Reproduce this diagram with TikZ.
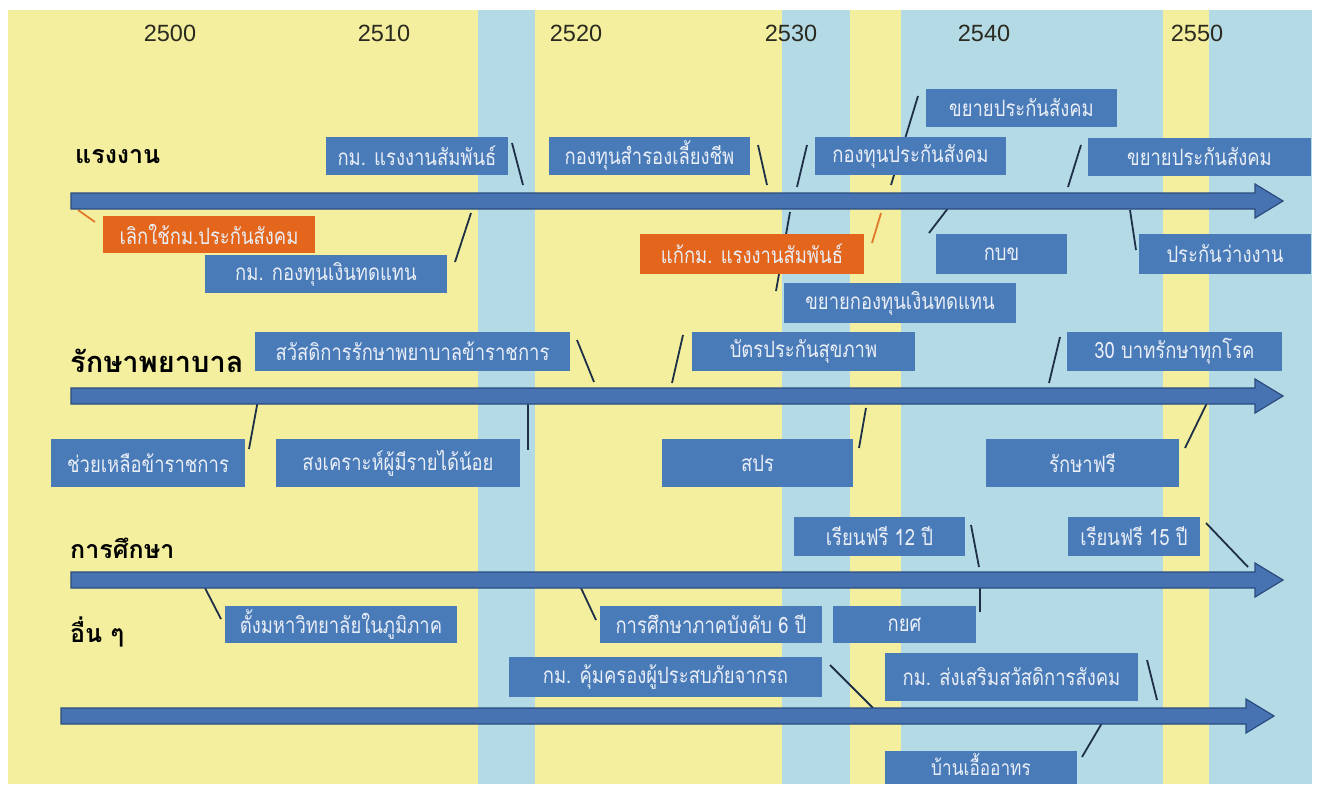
\documentclass[tikz,border=0pt]{standalone}
\usepackage{fontspec}
\setmainfont{Liberation Sans}
\newfontfamily\thai[Script=Thai]{Loma}
\newfontfamily\thaic[Script=Thai,FakeStretch=0.82]{Loma}
\definecolor{bgyellow}{HTML}{F4EF9E}
\definecolor{bgblue}{HTML}{B4DAE6}
\definecolor{boxblue}{HTML}{4A7BB9}
\definecolor{boxorange}{HTML}{E3661C}
\definecolor{arrowfill}{HTML}{4773B3}
\definecolor{arrowline}{HTML}{2B4C7E}
\definecolor{connc}{HTML}{1E3048}
\definecolor{orangeline}{HTML}{E07A2A}
\definecolor{boxtext}{HTML}{E9EEF6}
\definecolor{yeartext}{HTML}{2A2A20}
\pgfdeclarelayer{bg}
\pgfdeclarelayer{lines}
\pgfsetlayers{bg,lines,main}
\tikzset{
  box/.style={fill=boxblue, text=boxtext, font=\thaic\fontsize{22.5}{22.5}\selectfont, inner sep=0pt, anchor=center},
  obox/.style={box, fill=boxorange},
  conn/.style={draw=connc, line width=1.8pt},
  oconn/.style={draw=orangeline, line width=1.8pt},
  rowtitle/.style={font=\thai\bfseries\fontsize{25}{25}\selectfont, anchor=west, text=black, inner sep=0pt},
  bigtitle/.style={rowtitle, font=\thai\bfseries\fontsize{29}{29}\selectfont},
  year/.style={font=\fontsize{23.5}{23.5}\selectfont, text=yeartext, inner sep=0pt},
  timeline/.style={fill=arrowfill, draw=arrowline, line width=1.2pt, line join=miter},
}
\newcommand\myconn[4][conn]{%
  \begin{pgfonlayer}{lines}
  \coordinate (#2-a) at (#3);
  \coordinate (#2-b) at (#4);
  \draw[#1] (#2-a) -- (#2-b);
  \end{pgfonlayer}}
\newcommand\myarrow[4]{% name, x start, y, tip x
  \path[timeline] (#2,#3-8) -- (#4-28,#3-8) -- (#4-28,#3-17) -- (#4,#3) -- (#4-28,#3+17) -- (#4-28,#3+8) -- (#2,#3+8) -- cycle;
  \coordinate (#1-start) at (#2,#3);
  \coordinate (#1-tip) at (#4,#3);}
\begin{document}
\begin{tikzpicture}[x=1pt,y=-1pt]
\useasboundingbox (0,0) rectangle (1319,784);
\begin{pgfonlayer}{bg}
\fill[white] (0,0) rectangle (1319,784);
\fill[bgyellow] (8,10) rectangle (1312,784);
\fill[bgblue] (478,10) rectangle (535,784);
\fill[bgblue] (782,10) rectangle (850,784);
\fill[bgblue] (901,10) rectangle (1163,784);
\fill[bgblue] (1209,10) rectangle (1312,784);
\end{pgfonlayer}

% years
\node[year] (y2500) at (170,33) {2500};
\node[year] (y2510) at (384,33) {2510};
\node[year] (y2520) at (576,33) {2520};
\node[year] (y2530) at (791,33) {2530};
\node[year] (y2540) at (984,33) {2540};
\node[year] (y2550) at (1197,33) {2550};

% row titles
\node[rowtitle] (t1) at (75,157) {แรงงาน};
\node[bigtitle] (t2) at (70,361) {รักษาพยาบาล};
\node[rowtitle] (t3) at (70,548) {การศึกษา};
\node[rowtitle] (t4) at (70,632) {อื่น ๆ};

% timelines
\myarrow{A1}{71}{201}{1283}
\myarrow{A2}{71}{396}{1283}
\myarrow{A3}{71}{580}{1283}
\myarrow{A4}{61}{716}{1274}

% row 1 boxes
\node[box, minimum width=182, minimum height=38] (kmRS) at (417,156) {กม. แรงงานสัมพันธ์};
\node[box, minimum width=201, minimum height=38] (ktSR) at (649.5,156) {กองทุนสำรองเลี้ยงชีพ};
\node[box, minimum width=191, minimum height=38] (ktPS) at (910.5,156) {กองทุนประกันสังคม};
\node[box, minimum width=191, minimum height=38] (kyPS1) at (1021.5,108) {ขยายประกันสังคม};
\node[box, minimum width=223, minimum height=38] (kyPS2) at (1199.5,157) {ขยายประกันสังคม};
\node[obox, minimum width=212, minimum height=37] (lkPS) at (209,234.5) {เลิกใช้กม.ประกันสังคม};
\node[box, minimum width=242, minimum height=38] (kmKT) at (326,274) {กม. กองทุนเงินทดแทน};
\node[obox, minimum width=224, minimum height=40] (kkRS) at (752,254) {แก้กม. แรงงานสัมพันธ์};
\node[box, minimum width=232, minimum height=40] (kyKT) at (900,303) {ขยายกองทุนเงินทดแทน};
\node[box, minimum width=131, minimum height=40] (kbk) at (1001.5,254) {กบข};
\node[box, minimum width=172, minimum height=40] (pkWN) at (1225,254) {ประกันว่างงาน};

% row 2 boxes
\node[box, minimum width=315, minimum height=39] (swRP) at (412.5,351.5) {สวัสดิการรักษาพยาบาลข้าราชการ};
\node[box, minimum width=223, minimum height=39] (btPS) at (803.5,351.5) {บัตรประกันสุขภาพ};
\node[box, minimum width=215, minimum height=39] (b30) at (1174.5,351.5) {30 บาทรักษาทุกโรค};
\node[box, minimum width=194, minimum height=48] (chKR) at (148,463) {ช่วยเหลือข้าราชการ};
\node[box, minimum width=244, minimum height=48] (skPM) at (398,463) {สงเคราะห์ผู้มีรายได้น้อย};
\node[box, minimum width=191, minimum height=48] (spr) at (757.5,463) {สปร};
\node[box, minimum width=193, minimum height=48] (rkF) at (1082.5,463) {รักษาฟรี};

% row 3 boxes
\node[box, minimum width=171, minimum height=39] (rf12) at (879.5,536.5) {เรียนฟรี 12 ปี};
\node[box, minimum width=132, minimum height=39] (rf15) at (1134,536.5) {เรียนฟรี 15 ปี};
\node[box, minimum width=232, minimum height=37] (tmh) at (341,624.5) {ตั้งมหาวิทยาลัยในภูมิภาค};
\node[box, minimum width=222, minimum height=37] (ksb6) at (711,624.5) {การศึกษาภาคบังคับ 6 ปี};
\node[box, minimum width=143, minimum height=37] (kys) at (904.5,624.5) {กยศ};

% row 4 boxes
\node[box, minimum width=313, minimum height=40] (kmKK) at (665.5,677) {กม. คุ้มครองผู้ประสบภัยจากรถ};
\node[box, minimum width=253, minimum height=48] (kmSS) at (1011.5,677) {กม. ส่งเสริมสวัสดิการสังคม};
\node[box, minimum width=192, minimum height=33, font=\thaic\fontsize{21}{21}\selectfont] (bae) at (981,767.5) {\raisebox{6pt}{บ้านเอื้ออาทร}};

% connectors
\myconn{c1}{512,143}{523,185}
\myconn{c2}{758,145}{767,185}
\myconn{c3}{807,145}{797,187}
\myconn{c4}{918,96}{891,185}
\myconn{c5}{1081,145}{1068,187}
\myconn[oconn]{c6}{78,210}{95,222}
\myconn{c7}{471,213}{455,262}
\myconn[oconn]{c8}{881,213}{872,243}
\myconn{c9}{790,212}{776,291}
\myconn{c10}{952,203}{929,233}
\myconn{c11}{1130,210}{1136,250}
\myconn{c12}{577,340}{594,382}
\myconn{c13}{683,335}{672,383}
\myconn{c14}{1060,337}{1049,383}
\myconn{c15}{258,400}{249,449}
\myconn{c16}{528,392}{528,450}
\myconn{c17}{866,408}{859,448}
\myconn{c18}{1207,403}{1185,448}
\myconn{c19}{971,525}{979,567}
\myconn{c20}{1206,523}{1248,567}
\myconn{c21}{205,588}{221,619}
\myconn{c22}{581,588}{596,620}
\myconn{c23}{980,588}{980,612}
\myconn{c24}{830,665}{873,708}
\myconn{c25}{1147,660}{1157,700}
\myconn{c26}{1102,723}{1082,757}
\end{tikzpicture}
\end{document}
